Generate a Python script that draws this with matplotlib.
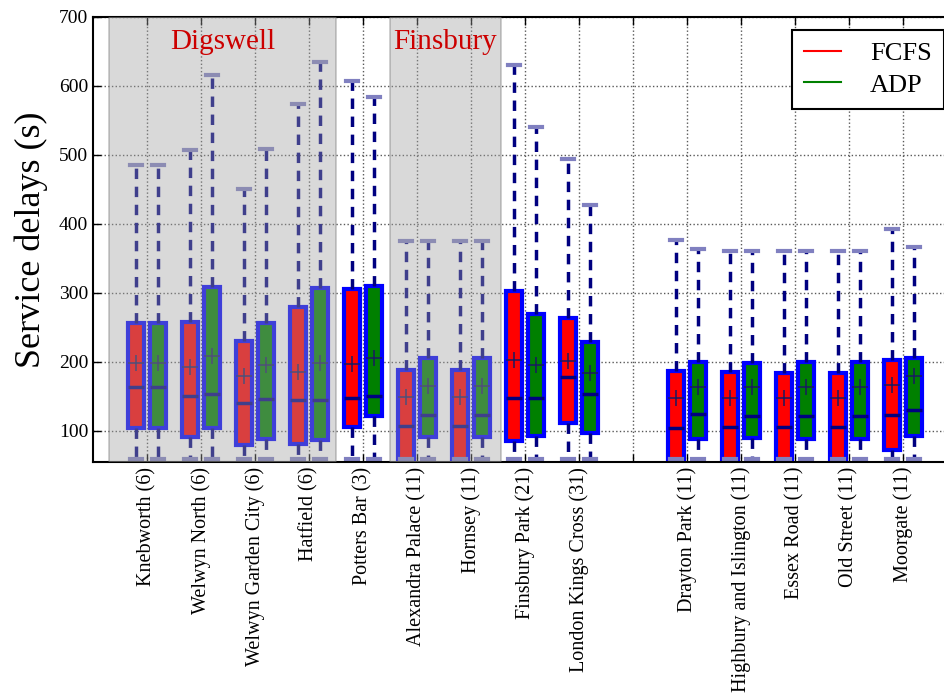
import matplotlib
matplotlib.use('Agg')
import matplotlib.pyplot as plt
from matplotlib.lines import Line2D

plt.rcParams['font.family'] = ['Liberation Serif', 'DejaVu Serif']

# stations (number of trains in brackets); position 10 is left empty
stations = ['Knebworth (6)', 'Welwyn North (6)', 'Welwyn Garden City (6)', 'Hatfield (6)',
            'Potters Bar (3)', 'Alexandra Palace (11)', 'Hornsey (11)', 'Finsbury Park (21)',
            'London Kings Cross (31)', 'Drayton Park (11)', 'Highbury and Islington (11)',
            'Essex Road (11)', 'Old Street (11)', 'Moorgate (11)']
positions = [1, 2, 3, 4, 5, 6, 7, 8, 9, 11, 12, 13, 14, 15]

# FCFS box statistics (s)
fcfs_lo = [60, 60, 60, 60, 60, 60, 60, 60, 60, 60, 60, 60, 60, 60]
fcfs_q1 = [104, 91, 79, 81, 106, 52, 52, 86, 112, 52, 52, 52, 52, 72]
fcfs_med = [163, 150, 140, 145, 147, 107, 107, 147, 178, 104, 105, 105, 105, 123]
fcfs_q3 = [256, 258, 230, 279, 305, 188, 188, 303, 264, 187, 185, 184, 184, 203]
fcfs_hi = [485, 507, 450, 574, 607, 375, 375, 630, 494, 377, 360, 360, 360, 393]
fcfs_mean = [199, 192, 179, 185, 197, 149, 149, 203, 201, 148, 147, 147, 147, 167]

# ADP box statistics (s)
adp_lo = [60, 60, 60, 60, 60, 60, 60, 60, 60, 60, 60, 60, 60, 60]
adp_q1 = [104, 104, 89, 87, 121, 91, 91, 92, 97, 89, 90, 89, 88, 93]
adp_med = [163, 153, 146, 145, 150, 123, 123, 147, 153, 124, 121, 121, 121, 131]
adp_q3 = [256, 309, 257, 307, 310, 205, 205, 270, 229, 200, 199, 200, 200, 205]
adp_hi = [485, 616, 509, 635, 584, 375, 375, 540, 427, 363, 360, 360, 360, 367]
adp_mean = [199, 208, 195, 199, 206, 165, 165, 195, 184, 164, 164, 163, 163, 179]

# shaded station groups
groups = [('Digswell', 0.3, 4.5), ('Finsbury', 5.5, 7.55)]


def make_stats(lo, q1, med, q3, hi, mean):
    return [dict(whislo=a, q1=b, med=c, q3=d, whishi=e, mean=f, fliers=[])
            for a, b, c, d, e, f in zip(lo, q1, med, q3, hi, mean)]


fig = plt.figure(figsize=(9.45, 7.0), dpi=100)
# the right edge of the axes runs just past the figure, as in the original crop
ax = fig.add_axes([0.0984, 0.34, 0.9143, 0.636])


def draw(stats, pos, face):
    ax.bxp(stats, positions=pos, widths=0.3, patch_artist=True, showmeans=True,
           showfliers=False,
           boxprops=dict(facecolor=face, edgecolor='blue', linewidth=3),
           medianprops=dict(color='#000080', linewidth=2.5),
           whiskerprops=dict(color='#000080', linewidth=2.5, linestyle=(0, (3, 2.2))),
           capprops=dict(color='#8080c0', linewidth=3),
           capwidths=0.22,
           meanprops=dict(marker='+', markeredgecolor='#1a1a60', markersize=11,
                          markeredgewidth=1.1))


draw(make_stats(fcfs_lo, fcfs_q1, fcfs_med, fcfs_q3, fcfs_hi, fcfs_mean),
     [p - 0.21 for p in positions], '#ff0000')
draw(make_stats(adp_lo, adp_q1, adp_med, adp_q3, adp_hi, adp_mean),
     [p + 0.2 for p in positions], '#008000')

for name, x0, x1 in groups:
    ax.axvspan(x0, x1, facecolor='#a0a0a0', edgecolor='#707070', linewidth=1.2,
               alpha=0.4, zorder=3)
    ax.text((x0 + x1) / 2, 664, name, color='#cc0000', fontsize=21,
            ha='center', va='center', zorder=4)

ticks = list(range(1, 16))
labels = stations[:9] + [''] + stations[9:]
ax.set_xticks(ticks)
ax.set_xticklabels(labels, rotation=90, fontsize=14.5)
ax.set_xlim(0, 16)
ax.set_ylim(55, 700)
ax.set_yticks([100, 200, 300, 400, 500, 600, 700])
ax.tick_params(axis='y', labelsize=14)
ax.tick_params(direction='in', top=True, right=True, length=6, width=1)
ax.set_ylabel('Service delays (s)', fontsize=26, labelpad=8)

ax.set_axisbelow(True)
ax.grid(True, linestyle=':', color='0.35', linewidth=1)
for sp in ax.spines.values():
    sp.set_linewidth(1.5)

handles = [Line2D([], [], color='red', linewidth=1.5),
           Line2D([], [], color='green', linewidth=1.5)]
leg = ax.legend(handles, ['FCFS', 'ADP'], loc='upper right', fontsize=19,
                fancybox=False, framealpha=1, edgecolor='black', handlelength=1.4,
                handletextpad=1.1, borderpad=0.45, labelspacing=0.3,
                borderaxespad=0.5)
leg.get_frame().set_linewidth(1.5)
leg.set_zorder(5)

fig.savefig('out.png', dpi=100)
